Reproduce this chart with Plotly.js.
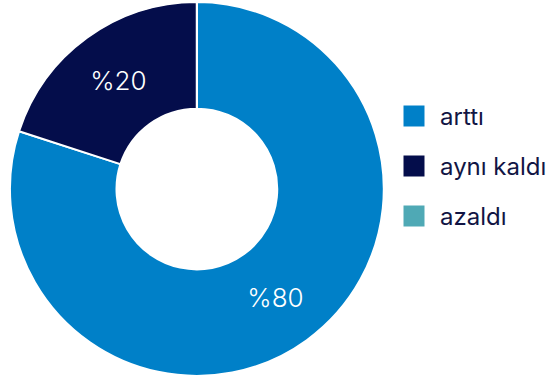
<!DOCTYPE html>
<html><head><meta charset="utf-8">
<script src="https://cdn.plot.ly/plotly-3.0.1.min.js"></script>
<style>body{margin:0;background:#fff}#chart{width:553px;height:378px}</style>
</head><body><div id="chart"></div>
<script>
const labels = ['arttı', 'aynı kaldı', 'azaldı'];
const values = [80, 20, 0];
const colors = ['#0080C8', '#040D4B', '#4FA9B5'];
const texts = values.map(v => '%' + v);

const data = [{
  type: 'pie',
  labels: labels,
  values: values,
  text: texts,
  textinfo: 'text',
  hole: 0.43,
  sort: false,
  direction: 'clockwise',
  rotation: 0,
  marker: {colors: colors, line: {color: '#ffffff', width: 2}},
  textposition: 'inside',
  insidetextorientation: 'horizontal',
  insidetextfont: {family: 'Inter, sans-serif', size: 26, color: '#ffffff', weight: 300},
  domain: {x: [0.018, 0.694], y: [0, 1]},
  hoverinfo: 'none'
}];

const layout = {
  width: 553, height: 378,
  margin: {l: 0, r: 0, t: 0, b: 0},
  paper_bgcolor: '#ffffff',
  showlegend: true,
  legend: {
    x: 0.712, y: 0.75, xanchor: 'left', yanchor: 'top',
    font: {family: 'Inter, sans-serif', size: 24, color: '#111544'},
    traceorder: 'normal'
  }
};

// legend styling: larger square keys, 50px row pitch
const KEY_CX = 414, ROW_Y0 = 116, ROW_PITCH = 50, KEY_HALF = 11.5, TEXT_X = 46;

Plotly.newPlot('chart', data, layout, {displayModeBar: false, staticPlot: true}).then(function (gd) {
  const legend = gd.querySelector('.legend');
  if (!legend) return;
  const sb = legend.querySelector('.scrollbox');
  if (sb) sb.removeAttribute('clip-path');
  const groups = legend.querySelector('.groups') || sb;
  const ctm = groups.getScreenCTM();
  const items = legend.querySelectorAll('.traces');
  items.forEach(function (it, i) {
    it.setAttribute('transform', 'translate(' + (KEY_CX - 20 - ctm.e) + ',' + (ROW_Y0 + i * ROW_PITCH - ctm.f) + ')');
    it.querySelectorAll('.legendpie, .legendpoints path').forEach(function (p) {
      p.setAttribute('d', 'M' + KEY_HALF + ',' + KEY_HALF + 'H-' + KEY_HALF + 'V-' + KEY_HALF + 'H' + KEY_HALF + 'Z');
    });
    const t = it.querySelector('text.legendtext');
    if (t) {
      t.setAttribute('x', TEXT_X);
      t.querySelectorAll('tspan.line').forEach(function (s) { s.setAttribute('x', TEXT_X); });
    }
  });
});
</script></body></html>
